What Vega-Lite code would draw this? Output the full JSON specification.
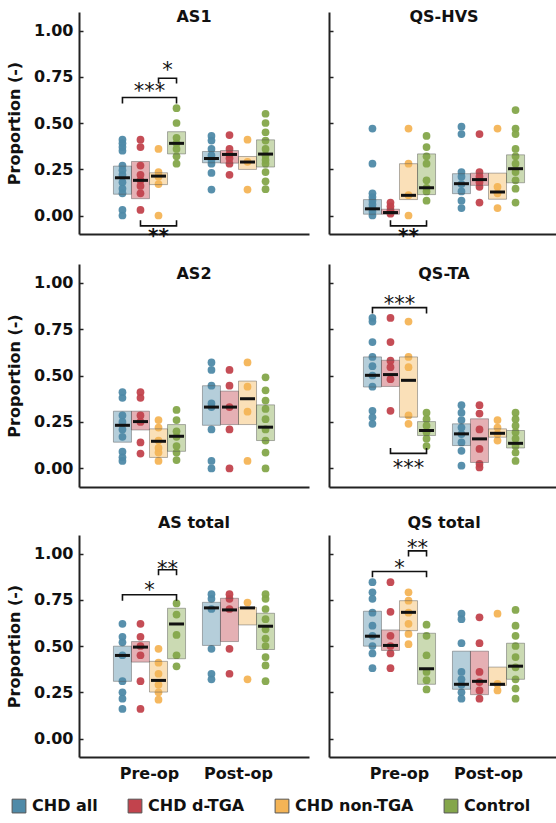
{
"$schema":"https://vega.github.io/schema/vega-lite/v6.json",
"padding":{"top":9,"left":6,"right":0,"bottom":5},
"config":{
 "font":"DejaVu Sans",
 "view":{"stroke":null},
 "axis":{"grid":false,"domainColor":"#222","domainWidth":2,"tickColor":"#222","tickWidth":1.5,"labelFont":"DejaVu Sans","labelFontSize":16,"labelFontWeight":"bold","labelColor":"#111","titleFont":"DejaVu Sans","titleFontSize":16,"titleFontWeight":"bold","titleColor":"#111"},
 "axisX":{"ticks":false,"labelAngle":0,"title":null,"labelPadding":8},
 "axisY":{"tickSize":-4,"labelPadding":10,"titlePadding":11},
 "title":{"font":"DejaVu Sans","fontSize":16,"fontWeight":"bold","color":"#111","anchor":"middle","baseline":"bottom","frame":"group"},
 "legend":{"orient":"none","direction":"horizontal","legendX":-68,"legendY":786,"padding":0,"labelFont":"DejaVu Sans","labelFontSize":16,"labelFontWeight":"bold","labelColor":"#111"}
},
"datasets":{
"pts":[
{"p":"AS1","t":"Pre-op","g":"CHD all","v":0.41},{"p":"AS1","t":"Pre-op","g":"CHD all","v":0.39},{"p":"AS1","t":"Pre-op","g":"CHD all","v":0.37},{"p":"AS1","t":"Pre-op","g":"CHD all","v":0.35},{"p":"AS1","t":"Pre-op","g":"CHD all","v":0.27},{"p":"AS1","t":"Pre-op","g":"CHD all","v":0.245},{"p":"AS1","t":"Pre-op","g":"CHD all","v":0.22},{"p":"AS1","t":"Pre-op","g":"CHD all","v":0.18},{"p":"AS1","t":"Pre-op","g":"CHD all","v":0.145},{"p":"AS1","t":"Pre-op","g":"CHD all","v":0.12},{"p":"AS1","t":"Pre-op","g":"CHD all","v":0.03},{"p":"AS1","t":"Pre-op","g":"CHD all","v":0.0},
{"p":"AS1","t":"Pre-op","g":"CHD d-TGA","v":0.41},{"p":"AS1","t":"Pre-op","g":"CHD d-TGA","v":0.37},{"p":"AS1","t":"Pre-op","g":"CHD d-TGA","v":0.27},{"p":"AS1","t":"Pre-op","g":"CHD d-TGA","v":0.22},{"p":"AS1","t":"Pre-op","g":"CHD d-TGA","v":0.19},{"p":"AS1","t":"Pre-op","g":"CHD d-TGA","v":0.16},{"p":"AS1","t":"Pre-op","g":"CHD d-TGA","v":0.12},{"p":"AS1","t":"Pre-op","g":"CHD d-TGA","v":0.03},
{"p":"AS1","t":"Pre-op","g":"CHD non-TGA","v":0.36},{"p":"AS1","t":"Pre-op","g":"CHD non-TGA","v":0.235},{"p":"AS1","t":"Pre-op","g":"CHD non-TGA","v":0.21},{"p":"AS1","t":"Pre-op","g":"CHD non-TGA","v":0.17},{"p":"AS1","t":"Pre-op","g":"CHD non-TGA","v":0.0},
{"p":"AS1","t":"Pre-op","g":"Control","v":0.58},{"p":"AS1","t":"Pre-op","g":"Control","v":0.5},{"p":"AS1","t":"Pre-op","g":"Control","v":0.42},{"p":"AS1","t":"Pre-op","g":"Control","v":0.39},{"p":"AS1","t":"Pre-op","g":"Control","v":0.36},{"p":"AS1","t":"Pre-op","g":"Control","v":0.32},{"p":"AS1","t":"Pre-op","g":"Control","v":0.28},
{"p":"AS1","t":"Post-op","g":"CHD all","v":0.43},{"p":"AS1","t":"Post-op","g":"CHD all","v":0.405},{"p":"AS1","t":"Post-op","g":"CHD all","v":0.36},{"p":"AS1","t":"Post-op","g":"CHD all","v":0.325},{"p":"AS1","t":"Post-op","g":"CHD all","v":0.3},{"p":"AS1","t":"Post-op","g":"CHD all","v":0.28},{"p":"AS1","t":"Post-op","g":"CHD all","v":0.23},{"p":"AS1","t":"Post-op","g":"CHD all","v":0.14},
{"p":"AS1","t":"Post-op","g":"CHD d-TGA","v":0.435},{"p":"AS1","t":"Post-op","g":"CHD d-TGA","v":0.36},{"p":"AS1","t":"Post-op","g":"CHD d-TGA","v":0.33},{"p":"AS1","t":"Post-op","g":"CHD d-TGA","v":0.31},{"p":"AS1","t":"Post-op","g":"CHD d-TGA","v":0.28},{"p":"AS1","t":"Post-op","g":"CHD d-TGA","v":0.22},
{"p":"AS1","t":"Post-op","g":"CHD non-TGA","v":0.41},{"p":"AS1","t":"Post-op","g":"CHD non-TGA","v":0.29},{"p":"AS1","t":"Post-op","g":"CHD non-TGA","v":0.14},
{"p":"AS1","t":"Post-op","g":"Control","v":0.55},{"p":"AS1","t":"Post-op","g":"Control","v":0.5},{"p":"AS1","t":"Post-op","g":"Control","v":0.45},{"p":"AS1","t":"Post-op","g":"Control","v":0.405},{"p":"AS1","t":"Post-op","g":"Control","v":0.36},{"p":"AS1","t":"Post-op","g":"Control","v":0.325},{"p":"AS1","t":"Post-op","g":"Control","v":0.3},{"p":"AS1","t":"Post-op","g":"Control","v":0.28},{"p":"AS1","t":"Post-op","g":"Control","v":0.235},{"p":"AS1","t":"Post-op","g":"Control","v":0.185},{"p":"AS1","t":"Post-op","g":"Control","v":0.142},

{"p":"QS-HVS","t":"Pre-op","g":"CHD all","v":0.47},{"p":"QS-HVS","t":"Pre-op","g":"CHD all","v":0.28},{"p":"QS-HVS","t":"Pre-op","g":"CHD all","v":0.12},{"p":"QS-HVS","t":"Pre-op","g":"CHD all","v":0.1},{"p":"QS-HVS","t":"Pre-op","g":"CHD all","v":0.08},{"p":"QS-HVS","t":"Pre-op","g":"CHD all","v":0.06},{"p":"QS-HVS","t":"Pre-op","g":"CHD all","v":0.04},{"p":"QS-HVS","t":"Pre-op","g":"CHD all","v":0.02},{"p":"QS-HVS","t":"Pre-op","g":"CHD all","v":0.0},
{"p":"QS-HVS","t":"Pre-op","g":"CHD d-TGA","v":0.07},{"p":"QS-HVS","t":"Pre-op","g":"CHD d-TGA","v":0.05},{"p":"QS-HVS","t":"Pre-op","g":"CHD d-TGA","v":0.03},{"p":"QS-HVS","t":"Pre-op","g":"CHD d-TGA","v":0.02},{"p":"QS-HVS","t":"Pre-op","g":"CHD d-TGA","v":0.01},
{"p":"QS-HVS","t":"Pre-op","g":"CHD non-TGA","v":0.47},{"p":"QS-HVS","t":"Pre-op","g":"CHD non-TGA","v":0.28},{"p":"QS-HVS","t":"Pre-op","g":"CHD non-TGA","v":0.11},{"p":"QS-HVS","t":"Pre-op","g":"CHD non-TGA","v":0.0},
{"p":"QS-HVS","t":"Pre-op","g":"Control","v":0.43},{"p":"QS-HVS","t":"Pre-op","g":"Control","v":0.37},{"p":"QS-HVS","t":"Pre-op","g":"Control","v":0.32},{"p":"QS-HVS","t":"Pre-op","g":"Control","v":0.28},{"p":"QS-HVS","t":"Pre-op","g":"Control","v":0.19},{"p":"QS-HVS","t":"Pre-op","g":"Control","v":0.15},{"p":"QS-HVS","t":"Pre-op","g":"Control","v":0.13},{"p":"QS-HVS","t":"Pre-op","g":"Control","v":0.08},
{"p":"QS-HVS","t":"Post-op","g":"CHD all","v":0.48},{"p":"QS-HVS","t":"Post-op","g":"CHD all","v":0.44},{"p":"QS-HVS","t":"Post-op","g":"CHD all","v":0.235},{"p":"QS-HVS","t":"Post-op","g":"CHD all","v":0.21},{"p":"QS-HVS","t":"Post-op","g":"CHD all","v":0.17},{"p":"QS-HVS","t":"Post-op","g":"CHD all","v":0.13},{"p":"QS-HVS","t":"Post-op","g":"CHD all","v":0.08},{"p":"QS-HVS","t":"Post-op","g":"CHD all","v":0.04},
{"p":"QS-HVS","t":"Post-op","g":"CHD d-TGA","v":0.44},{"p":"QS-HVS","t":"Post-op","g":"CHD d-TGA","v":0.235},{"p":"QS-HVS","t":"Post-op","g":"CHD d-TGA","v":0.21},{"p":"QS-HVS","t":"Post-op","g":"CHD d-TGA","v":0.18},{"p":"QS-HVS","t":"Post-op","g":"CHD d-TGA","v":0.155},{"p":"QS-HVS","t":"Post-op","g":"CHD d-TGA","v":0.07},
{"p":"QS-HVS","t":"Post-op","g":"CHD non-TGA","v":0.47},{"p":"QS-HVS","t":"Post-op","g":"CHD non-TGA","v":0.155},{"p":"QS-HVS","t":"Post-op","g":"CHD non-TGA","v":0.12},{"p":"QS-HVS","t":"Post-op","g":"CHD non-TGA","v":0.04},
{"p":"QS-HVS","t":"Post-op","g":"Control","v":0.57},{"p":"QS-HVS","t":"Post-op","g":"Control","v":0.47},{"p":"QS-HVS","t":"Post-op","g":"Control","v":0.44},{"p":"QS-HVS","t":"Post-op","g":"Control","v":0.36},{"p":"QS-HVS","t":"Post-op","g":"Control","v":0.32},{"p":"QS-HVS","t":"Post-op","g":"Control","v":0.28},{"p":"QS-HVS","t":"Post-op","g":"Control","v":0.235},{"p":"QS-HVS","t":"Post-op","g":"Control","v":0.19},{"p":"QS-HVS","t":"Post-op","g":"Control","v":0.145},{"p":"QS-HVS","t":"Post-op","g":"Control","v":0.07},

{"p":"AS2","t":"Pre-op","g":"CHD all","v":0.41},{"p":"AS2","t":"Pre-op","g":"CHD all","v":0.38},{"p":"AS2","t":"Pre-op","g":"CHD all","v":0.285},{"p":"AS2","t":"Pre-op","g":"CHD all","v":0.25},{"p":"AS2","t":"Pre-op","g":"CHD all","v":0.21},{"p":"AS2","t":"Pre-op","g":"CHD all","v":0.17},{"p":"AS2","t":"Pre-op","g":"CHD all","v":0.09},{"p":"AS2","t":"Pre-op","g":"CHD all","v":0.06},{"p":"AS2","t":"Pre-op","g":"CHD all","v":0.04},
{"p":"AS2","t":"Pre-op","g":"CHD d-TGA","v":0.41},{"p":"AS2","t":"Pre-op","g":"CHD d-TGA","v":0.38},{"p":"AS2","t":"Pre-op","g":"CHD d-TGA","v":0.285},{"p":"AS2","t":"Pre-op","g":"CHD d-TGA","v":0.25},{"p":"AS2","t":"Pre-op","g":"CHD d-TGA","v":0.14},{"p":"AS2","t":"Pre-op","g":"CHD d-TGA","v":0.08},
{"p":"AS2","t":"Pre-op","g":"CHD non-TGA","v":0.26},{"p":"AS2","t":"Pre-op","g":"CHD non-TGA","v":0.22},{"p":"AS2","t":"Pre-op","g":"CHD non-TGA","v":0.15},{"p":"AS2","t":"Pre-op","g":"CHD non-TGA","v":0.11},{"p":"AS2","t":"Pre-op","g":"CHD non-TGA","v":0.085},{"p":"AS2","t":"Pre-op","g":"CHD non-TGA","v":0.04},
{"p":"AS2","t":"Pre-op","g":"Control","v":0.315},{"p":"AS2","t":"Pre-op","g":"Control","v":0.26},{"p":"AS2","t":"Pre-op","g":"Control","v":0.2},{"p":"AS2","t":"Pre-op","g":"Control","v":0.17},{"p":"AS2","t":"Pre-op","g":"Control","v":0.12},{"p":"AS2","t":"Pre-op","g":"Control","v":0.085},{"p":"AS2","t":"Pre-op","g":"Control","v":0.045},
{"p":"AS2","t":"Post-op","g":"CHD all","v":0.57},{"p":"AS2","t":"Post-op","g":"CHD all","v":0.53},{"p":"AS2","t":"Post-op","g":"CHD all","v":0.445},{"p":"AS2","t":"Post-op","g":"CHD all","v":0.35},{"p":"AS2","t":"Post-op","g":"CHD all","v":0.33},{"p":"AS2","t":"Post-op","g":"CHD all","v":0.21},{"p":"AS2","t":"Post-op","g":"CHD all","v":0.04},{"p":"AS2","t":"Post-op","g":"CHD all","v":0.0},
{"p":"AS2","t":"Post-op","g":"CHD d-TGA","v":0.53},{"p":"AS2","t":"Post-op","g":"CHD d-TGA","v":0.445},{"p":"AS2","t":"Post-op","g":"CHD d-TGA","v":0.33},{"p":"AS2","t":"Post-op","g":"CHD d-TGA","v":0.21},{"p":"AS2","t":"Post-op","g":"CHD d-TGA","v":0.0},
{"p":"AS2","t":"Post-op","g":"CHD non-TGA","v":0.57},{"p":"AS2","t":"Post-op","g":"CHD non-TGA","v":0.44},{"p":"AS2","t":"Post-op","g":"CHD non-TGA","v":0.305},{"p":"AS2","t":"Post-op","g":"CHD non-TGA","v":0.04},
{"p":"AS2","t":"Post-op","g":"Control","v":0.49},{"p":"AS2","t":"Post-op","g":"Control","v":0.42},{"p":"AS2","t":"Post-op","g":"Control","v":0.365},{"p":"AS2","t":"Post-op","g":"Control","v":0.32},{"p":"AS2","t":"Post-op","g":"Control","v":0.265},{"p":"AS2","t":"Post-op","g":"Control","v":0.21},{"p":"AS2","t":"Post-op","g":"Control","v":0.15},{"p":"AS2","t":"Post-op","g":"Control","v":0.085},{"p":"AS2","t":"Post-op","g":"Control","v":0.0},

{"p":"QS-TA","t":"Pre-op","g":"CHD all","v":0.81},{"p":"QS-TA","t":"Pre-op","g":"CHD all","v":0.79},{"p":"QS-TA","t":"Pre-op","g":"CHD all","v":0.68},{"p":"QS-TA","t":"Pre-op","g":"CHD all","v":0.6},{"p":"QS-TA","t":"Pre-op","g":"CHD all","v":0.55},{"p":"QS-TA","t":"Pre-op","g":"CHD all","v":0.5},{"p":"QS-TA","t":"Pre-op","g":"CHD all","v":0.44},{"p":"QS-TA","t":"Pre-op","g":"CHD all","v":0.31},{"p":"QS-TA","t":"Pre-op","g":"CHD all","v":0.275},{"p":"QS-TA","t":"Pre-op","g":"CHD all","v":0.24},
{"p":"QS-TA","t":"Pre-op","g":"CHD d-TGA","v":0.81},{"p":"QS-TA","t":"Pre-op","g":"CHD d-TGA","v":0.68},{"p":"QS-TA","t":"Pre-op","g":"CHD d-TGA","v":0.58},{"p":"QS-TA","t":"Pre-op","g":"CHD d-TGA","v":0.545},{"p":"QS-TA","t":"Pre-op","g":"CHD d-TGA","v":0.48},{"p":"QS-TA","t":"Pre-op","g":"CHD d-TGA","v":0.31},
{"p":"QS-TA","t":"Pre-op","g":"CHD non-TGA","v":0.79},{"p":"QS-TA","t":"Pre-op","g":"CHD non-TGA","v":0.6},{"p":"QS-TA","t":"Pre-op","g":"CHD non-TGA","v":0.545},{"p":"QS-TA","t":"Pre-op","g":"CHD non-TGA","v":0.285},{"p":"QS-TA","t":"Pre-op","g":"CHD non-TGA","v":0.24},
{"p":"QS-TA","t":"Pre-op","g":"Control","v":0.3},{"p":"QS-TA","t":"Pre-op","g":"Control","v":0.265},{"p":"QS-TA","t":"Pre-op","g":"Control","v":0.23},{"p":"QS-TA","t":"Pre-op","g":"Control","v":0.195},{"p":"QS-TA","t":"Pre-op","g":"Control","v":0.16},{"p":"QS-TA","t":"Pre-op","g":"Control","v":0.12},
{"p":"QS-TA","t":"Post-op","g":"CHD all","v":0.34},{"p":"QS-TA","t":"Post-op","g":"CHD all","v":0.3},{"p":"QS-TA","t":"Post-op","g":"CHD all","v":0.26},{"p":"QS-TA","t":"Post-op","g":"CHD all","v":0.22},{"p":"QS-TA","t":"Post-op","g":"CHD all","v":0.185},{"p":"QS-TA","t":"Post-op","g":"CHD all","v":0.14},{"p":"QS-TA","t":"Post-op","g":"CHD all","v":0.095},{"p":"QS-TA","t":"Post-op","g":"CHD all","v":0.015},
{"p":"QS-TA","t":"Post-op","g":"CHD d-TGA","v":0.34},{"p":"QS-TA","t":"Post-op","g":"CHD d-TGA","v":0.295},{"p":"QS-TA","t":"Post-op","g":"CHD d-TGA","v":0.21},{"p":"QS-TA","t":"Post-op","g":"CHD d-TGA","v":0.105},{"p":"QS-TA","t":"Post-op","g":"CHD d-TGA","v":0.025},{"p":"QS-TA","t":"Post-op","g":"CHD d-TGA","v":0.005},
{"p":"QS-TA","t":"Post-op","g":"CHD non-TGA","v":0.26},{"p":"QS-TA","t":"Post-op","g":"CHD non-TGA","v":0.22},{"p":"QS-TA","t":"Post-op","g":"CHD non-TGA","v":0.185},{"p":"QS-TA","t":"Post-op","g":"CHD non-TGA","v":0.15},
{"p":"QS-TA","t":"Post-op","g":"Control","v":0.3},{"p":"QS-TA","t":"Post-op","g":"Control","v":0.265},{"p":"QS-TA","t":"Post-op","g":"Control","v":0.23},{"p":"QS-TA","t":"Post-op","g":"Control","v":0.195},{"p":"QS-TA","t":"Post-op","g":"Control","v":0.16},{"p":"QS-TA","t":"Post-op","g":"Control","v":0.12},{"p":"QS-TA","t":"Post-op","g":"Control","v":0.085},{"p":"QS-TA","t":"Post-op","g":"Control","v":0.04},

{"p":"AS total","t":"Pre-op","g":"CHD all","v":0.62},{"p":"AS total","t":"Pre-op","g":"CHD all","v":0.55},{"p":"AS total","t":"Pre-op","g":"CHD all","v":0.52},{"p":"AS total","t":"Pre-op","g":"CHD all","v":0.45},{"p":"AS total","t":"Pre-op","g":"CHD all","v":0.31},{"p":"AS total","t":"Pre-op","g":"CHD all","v":0.25},{"p":"AS total","t":"Pre-op","g":"CHD all","v":0.215},{"p":"AS total","t":"Pre-op","g":"CHD all","v":0.16},
{"p":"AS total","t":"Pre-op","g":"CHD d-TGA","v":0.62},{"p":"AS total","t":"Pre-op","g":"CHD d-TGA","v":0.55},{"p":"AS total","t":"Pre-op","g":"CHD d-TGA","v":0.5},{"p":"AS total","t":"Pre-op","g":"CHD d-TGA","v":0.45},{"p":"AS total","t":"Pre-op","g":"CHD d-TGA","v":0.31},{"p":"AS total","t":"Pre-op","g":"CHD d-TGA","v":0.16},
{"p":"AS total","t":"Pre-op","g":"CHD non-TGA","v":0.485},{"p":"AS total","t":"Pre-op","g":"CHD non-TGA","v":0.41},{"p":"AS total","t":"Pre-op","g":"CHD non-TGA","v":0.35},{"p":"AS total","t":"Pre-op","g":"CHD non-TGA","v":0.29},{"p":"AS total","t":"Pre-op","g":"CHD non-TGA","v":0.25},{"p":"AS total","t":"Pre-op","g":"CHD non-TGA","v":0.21},
{"p":"AS total","t":"Pre-op","g":"Control","v":0.73},{"p":"AS total","t":"Pre-op","g":"Control","v":0.67},{"p":"AS total","t":"Pre-op","g":"Control","v":0.56},{"p":"AS total","t":"Pre-op","g":"Control","v":0.45},{"p":"AS total","t":"Pre-op","g":"Control","v":0.39},
{"p":"AS total","t":"Post-op","g":"CHD all","v":0.78},{"p":"AS total","t":"Post-op","g":"CHD all","v":0.755},{"p":"AS total","t":"Post-op","g":"CHD all","v":0.7},{"p":"AS total","t":"Post-op","g":"CHD all","v":0.485},{"p":"AS total","t":"Post-op","g":"CHD all","v":0.35},{"p":"AS total","t":"Post-op","g":"CHD all","v":0.32},
{"p":"AS total","t":"Post-op","g":"CHD d-TGA","v":0.78},{"p":"AS total","t":"Post-op","g":"CHD d-TGA","v":0.755},{"p":"AS total","t":"Post-op","g":"CHD d-TGA","v":0.7},{"p":"AS total","t":"Post-op","g":"CHD d-TGA","v":0.485},{"p":"AS total","t":"Post-op","g":"CHD d-TGA","v":0.35},
{"p":"AS total","t":"Post-op","g":"CHD non-TGA","v":0.735},{"p":"AS total","t":"Post-op","g":"CHD non-TGA","v":0.32},
{"p":"AS total","t":"Post-op","g":"Control","v":0.78},{"p":"AS total","t":"Post-op","g":"Control","v":0.755},{"p":"AS total","t":"Post-op","g":"Control","v":0.7},{"p":"AS total","t":"Post-op","g":"Control","v":0.645},{"p":"AS total","t":"Post-op","g":"Control","v":0.59},{"p":"AS total","t":"Post-op","g":"Control","v":0.54},{"p":"AS total","t":"Post-op","g":"Control","v":0.5},{"p":"AS total","t":"Post-op","g":"Control","v":0.44},{"p":"AS total","t":"Post-op","g":"Control","v":0.395},{"p":"AS total","t":"Post-op","g":"Control","v":0.31},

{"p":"QS total","t":"Pre-op","g":"CHD all","v":0.845},{"p":"QS total","t":"Pre-op","g":"CHD all","v":0.79},{"p":"QS total","t":"Pre-op","g":"CHD all","v":0.755},{"p":"QS total","t":"Pre-op","g":"CHD all","v":0.68},{"p":"QS total","t":"Pre-op","g":"CHD all","v":0.61},{"p":"QS total","t":"Pre-op","g":"CHD all","v":0.555},{"p":"QS total","t":"Pre-op","g":"CHD all","v":0.5},{"p":"QS total","t":"Pre-op","g":"CHD all","v":0.46},{"p":"QS total","t":"Pre-op","g":"CHD all","v":0.38},
{"p":"QS total","t":"Pre-op","g":"CHD d-TGA","v":0.845},{"p":"QS total","t":"Pre-op","g":"CHD d-TGA","v":0.685},{"p":"QS total","t":"Pre-op","g":"CHD d-TGA","v":0.555},{"p":"QS total","t":"Pre-op","g":"CHD d-TGA","v":0.5},{"p":"QS total","t":"Pre-op","g":"CHD d-TGA","v":0.46},{"p":"QS total","t":"Pre-op","g":"CHD d-TGA","v":0.38},
{"p":"QS total","t":"Pre-op","g":"CHD non-TGA","v":0.79},{"p":"QS total","t":"Pre-op","g":"CHD non-TGA","v":0.745},{"p":"QS total","t":"Pre-op","g":"CHD non-TGA","v":0.68},{"p":"QS total","t":"Pre-op","g":"CHD non-TGA","v":0.62},{"p":"QS total","t":"Pre-op","g":"CHD non-TGA","v":0.565},{"p":"QS total","t":"Pre-op","g":"CHD non-TGA","v":0.51},
{"p":"QS total","t":"Pre-op","g":"Control","v":0.615},{"p":"QS total","t":"Pre-op","g":"Control","v":0.555},{"p":"QS total","t":"Pre-op","g":"Control","v":0.45},{"p":"QS total","t":"Pre-op","g":"Control","v":0.36},{"p":"QS total","t":"Pre-op","g":"Control","v":0.315},{"p":"QS total","t":"Pre-op","g":"Control","v":0.265},
{"p":"QS total","t":"Post-op","g":"CHD all","v":0.675},{"p":"QS total","t":"Post-op","g":"CHD all","v":0.645},{"p":"QS total","t":"Post-op","g":"CHD all","v":0.515},{"p":"QS total","t":"Post-op","g":"CHD all","v":0.36},{"p":"QS total","t":"Post-op","g":"CHD all","v":0.32},{"p":"QS total","t":"Post-op","g":"CHD all","v":0.29},{"p":"QS total","t":"Post-op","g":"CHD all","v":0.25},{"p":"QS total","t":"Post-op","g":"CHD all","v":0.215},
{"p":"QS total","t":"Post-op","g":"CHD d-TGA","v":0.655},{"p":"QS total","t":"Post-op","g":"CHD d-TGA","v":0.515},{"p":"QS total","t":"Post-op","g":"CHD d-TGA","v":0.36},{"p":"QS total","t":"Post-op","g":"CHD d-TGA","v":0.305},{"p":"QS total","t":"Post-op","g":"CHD d-TGA","v":0.26},{"p":"QS total","t":"Post-op","g":"CHD d-TGA","v":0.215},
{"p":"QS total","t":"Post-op","g":"CHD non-TGA","v":0.675},{"p":"QS total","t":"Post-op","g":"CHD non-TGA","v":0.295},{"p":"QS total","t":"Post-op","g":"CHD non-TGA","v":0.26},
{"p":"QS total","t":"Post-op","g":"Control","v":0.695},{"p":"QS total","t":"Post-op","g":"Control","v":0.61},{"p":"QS total","t":"Post-op","g":"Control","v":0.555},{"p":"QS total","t":"Post-op","g":"Control","v":0.5},{"p":"QS total","t":"Post-op","g":"Control","v":0.44},{"p":"QS total","t":"Post-op","g":"Control","v":0.385},{"p":"QS total","t":"Post-op","g":"Control","v":0.32},{"p":"QS total","t":"Post-op","g":"Control","v":0.27},{"p":"QS total","t":"Post-op","g":"Control","v":0.215}
],
"box":[
{"p":"AS1","t":"Pre-op","g":"CHD all","q1":0.115,"m":0.204,"q3":0.267},{"p":"AS1","t":"Pre-op","g":"CHD d-TGA","q1":0.091,"m":0.19,"q3":0.292},{"p":"AS1","t":"Pre-op","g":"CHD non-TGA","q1":0.167,"m":0.213,"q3":0.231},{"p":"AS1","t":"Pre-op","g":"Control","q1":0.333,"m":0.39,"q3":0.453},
{"p":"AS1","t":"Post-op","g":"CHD all","q1":0.285,"m":0.308,"q3":0.346},{"p":"AS1","t":"Post-op","g":"CHD d-TGA","q1":0.283,"m":0.33,"q3":0.351},{"p":"AS1","t":"Post-op","g":"CHD non-TGA","q1":0.249,"m":0.289,"q3":0.319},{"p":"AS1","t":"Post-op","g":"Control","q1":0.262,"m":0.332,"q3":0.409},
{"p":"QS-HVS","t":"Pre-op","g":"CHD all","q1":0.007,"m":0.036,"q3":0.086},{"p":"QS-HVS","t":"Pre-op","g":"CHD d-TGA","q1":0.007,"m":0.016,"q3":0.034},{"p":"QS-HVS","t":"Pre-op","g":"CHD non-TGA","q1":0.086,"m":0.109,"q3":0.28},{"p":"QS-HVS","t":"Pre-op","g":"Control","q1":0.113,"m":0.15,"q3":0.333},
{"p":"QS-HVS","t":"Post-op","g":"CHD all","q1":0.118,"m":0.172,"q3":0.226},{"p":"QS-HVS","t":"Post-op","g":"CHD d-TGA","q1":0.163,"m":0.194,"q3":0.229},{"p":"QS-HVS","t":"Post-op","g":"CHD non-TGA","q1":0.088,"m":0.127,"q3":0.229},{"p":"QS-HVS","t":"Post-op","g":"Control","q1":0.177,"m":0.253,"q3":0.328},
{"p":"AS2","t":"Pre-op","g":"CHD all","q1":0.141,"m":0.232,"q3":0.308},{"p":"AS2","t":"Pre-op","g":"CHD d-TGA","q1":0.207,"m":0.252,"q3":0.308},{"p":"AS2","t":"Pre-op","g":"CHD non-TGA","q1":0.059,"m":0.146,"q3":0.213},{"p":"AS2","t":"Pre-op","g":"Control","q1":0.092,"m":0.173,"q3":0.236},
{"p":"AS2","t":"Post-op","g":"CHD all","q1":0.232,"m":0.33,"q3":0.445},{"p":"AS2","t":"Post-op","g":"CHD d-TGA","q1":0.236,"m":0.33,"q3":0.416},{"p":"AS2","t":"Post-op","g":"CHD non-TGA","q1":0.236,"m":0.375,"q3":0.47},{"p":"AS2","t":"Post-op","g":"Control","q1":0.15,"m":0.222,"q3":0.342},
{"p":"QS-TA","t":"Pre-op","g":"CHD all","q1":0.438,"m":0.501,"q3":0.6},{"p":"QS-TA","t":"Pre-op","g":"CHD d-TGA","q1":0.441,"m":0.505,"q3":0.582},{"p":"QS-TA","t":"Pre-op","g":"CHD non-TGA","q1":0.276,"m":0.474,"q3":0.6},{"p":"QS-TA","t":"Pre-op","g":"Control","q1":0.177,"m":0.204,"q3":0.252},
{"p":"QS-TA","t":"Post-op","g":"CHD all","q1":0.123,"m":0.186,"q3":0.24},{"p":"QS-TA","t":"Post-op","g":"CHD d-TGA","q1":0.032,"m":0.159,"q3":0.267},{"p":"QS-TA","t":"Post-op","g":"CHD non-TGA","q1":0.168,"m":0.189,"q3":0.213},{"p":"QS-TA","t":"Post-op","g":"Control","q1":0.11,"m":0.135,"q3":0.204},
{"p":"AS total","t":"Pre-op","g":"CHD all","q1":0.309,"m":0.449,"q3":0.499},{"p":"AS total","t":"Pre-op","g":"CHD d-TGA","q1":0.413,"m":0.494,"q3":0.524},{"p":"AS total","t":"Pre-op","g":"CHD non-TGA","q1":0.251,"m":0.314,"q3":0.417},{"p":"AS total","t":"Pre-op","g":"Control","q1":0.431,"m":0.619,"q3":0.704},
{"p":"AS total","t":"Post-op","g":"CHD all","q1":0.503,"m":0.706,"q3":0.736},{"p":"AS total","t":"Post-op","g":"CHD d-TGA","q1":0.524,"m":0.695,"q3":0.758},{"p":"AS total","t":"Post-op","g":"CHD non-TGA","q1":0.614,"m":0.706,"q3":0.709},{"p":"AS total","t":"Post-op","g":"Control","q1":0.481,"m":0.607,"q3":0.677},
{"p":"QS total","t":"Pre-op","g":"CHD all","q1":0.499,"m":0.553,"q3":0.688},{"p":"QS total","t":"Pre-op","g":"CHD d-TGA","q1":0.476,"m":0.503,"q3":0.587},{"p":"QS total","t":"Pre-op","g":"CHD non-TGA","q1":0.583,"m":0.682,"q3":0.745},{"p":"QS total","t":"Pre-op","g":"Control","q1":0.293,"m":0.377,"q3":0.569},
{"p":"QS total","t":"Post-op","g":"CHD all","q1":0.266,"m":0.293,"q3":0.472},{"p":"QS total","t":"Post-op","g":"CHD d-TGA","q1":0.237,"m":0.309,"q3":0.472},{"p":"QS total","t":"Post-op","g":"CHD non-TGA","q1":0.287,"m":0.293,"q3":0.386},{"p":"QS total","t":"Post-op","g":"Control","q1":0.32,"m":0.391,"q3":0.515}
],
"br":[
{"p":"AS1","b":1,"t":"Pre-op","g":"CHD all","y":0.606,"o":1},{"p":"AS1","b":1,"t":"Pre-op","g":"CHD all","y":0.638,"o":2},{"p":"AS1","b":1,"t":"Pre-op","g":"Control","y":0.638,"o":3},{"p":"AS1","b":1,"t":"Pre-op","g":"Control","y":0.606,"o":4},
{"p":"AS1","b":2,"t":"Pre-op","g":"CHD non-TGA","y":0.713,"o":1},{"p":"AS1","b":2,"t":"Pre-op","g":"CHD non-TGA","y":0.742,"o":2},{"p":"AS1","b":2,"t":"Pre-op","g":"Control","y":0.742,"o":3},{"p":"AS1","b":2,"t":"Pre-op","g":"Control","y":0.713,"o":4},
{"p":"AS1","b":3,"t":"Pre-op","g":"CHD d-TGA","y":-0.025,"o":1},{"p":"AS1","b":3,"t":"Pre-op","g":"CHD d-TGA","y":-0.056,"o":2},{"p":"AS1","b":3,"t":"Pre-op","g":"Control","y":-0.056,"o":3},{"p":"AS1","b":3,"t":"Pre-op","g":"Control","y":-0.025,"o":4},
{"p":"QS-HVS","b":1,"t":"Pre-op","g":"CHD d-TGA","y":-0.025,"o":1},{"p":"QS-HVS","b":1,"t":"Pre-op","g":"CHD d-TGA","y":-0.056,"o":2},{"p":"QS-HVS","b":1,"t":"Pre-op","g":"Control","y":-0.056,"o":3},{"p":"QS-HVS","b":1,"t":"Pre-op","g":"Control","y":-0.025,"o":4},
{"p":"QS-TA","b":1,"t":"Pre-op","g":"CHD all","y":0.834,"o":1},{"p":"QS-TA","b":1,"t":"Pre-op","g":"CHD all","y":0.865,"o":2},{"p":"QS-TA","b":1,"t":"Pre-op","g":"Control","y":0.865,"o":3},{"p":"QS-TA","b":1,"t":"Pre-op","g":"Control","y":0.834,"o":4},
{"p":"QS-TA","b":2,"t":"Pre-op","g":"CHD d-TGA","y":0.11,"o":1},{"p":"QS-TA","b":2,"t":"Pre-op","g":"CHD d-TGA","y":0.081,"o":2},{"p":"QS-TA","b":2,"t":"Pre-op","g":"Control","y":0.081,"o":3},{"p":"QS-TA","b":2,"t":"Pre-op","g":"Control","y":0.11,"o":4},
{"p":"AS total","b":1,"t":"Pre-op","g":"CHD all","y":0.745,"o":1},{"p":"AS total","b":1,"t":"Pre-op","g":"CHD all","y":0.777,"o":2},{"p":"AS total","b":1,"t":"Pre-op","g":"Control","y":0.777,"o":3},{"p":"AS total","b":1,"t":"Pre-op","g":"Control","y":0.745,"o":4},
{"p":"AS total","b":2,"t":"Pre-op","g":"CHD non-TGA","y":0.883,"o":1},{"p":"AS total","b":2,"t":"Pre-op","g":"CHD non-TGA","y":0.912,"o":2},{"p":"AS total","b":2,"t":"Pre-op","g":"Control","y":0.912,"o":3},{"p":"AS total","b":2,"t":"Pre-op","g":"Control","y":0.883,"o":4},
{"p":"QS total","b":1,"t":"Pre-op","g":"CHD all","y":0.871,"o":1},{"p":"QS total","b":1,"t":"Pre-op","g":"CHD all","y":0.903,"o":2},{"p":"QS total","b":1,"t":"Pre-op","g":"Control","y":0.903,"o":3},{"p":"QS total","b":1,"t":"Pre-op","g":"Control","y":0.871,"o":4},
{"p":"QS total","b":2,"t":"Pre-op","g":"CHD non-TGA","y":0.984,"o":1},{"p":"QS total","b":2,"t":"Pre-op","g":"CHD non-TGA","y":1.014,"o":2},{"p":"QS total","b":2,"t":"Pre-op","g":"Control","y":1.014,"o":3},{"p":"QS total","b":2,"t":"Pre-op","g":"Control","y":0.984,"o":4}
],
"sig":[
{"p":"AS1","t":"Pre-op","g":"CHD all","s":"***","y":0.634,"k":"mid"},
{"p":"AS1","t":"Pre-op","g":"CHD non-TGA","s":"*","y":0.75,"k":"edge"},
{"p":"AS1","t":"Pre-op","g":"CHD non-TGA","s":"**","y":-0.142,"k":"bold"},
{"p":"QS-HVS","t":"Pre-op","g":"CHD non-TGA","s":"**","y":-0.142,"k":"bold"},
{"p":"QS-TA","t":"Pre-op","g":"CHD all","s":"***","y":0.845,"k":"mid"},
{"p":"QS-TA","t":"Pre-op","g":"CHD non-TGA","s":"***","y":-0.033,"k":"ctr"},
{"p":"AS total","t":"Pre-op","g":"CHD all","s":"*","y":0.764,"k":"mid"},
{"p":"AS total","t":"Pre-op","g":"CHD non-TGA","s":"**","y":0.878,"k":"edge"},
{"p":"QS total","t":"Pre-op","g":"CHD all","s":"*","y":0.886,"k":"mid"},
{"p":"QS total","t":"Pre-op","g":"CHD non-TGA","s":"**","y":0.994,"k":"edge"}
]
},
"vconcat":[
{"vconcat":[
{"hconcat":[
{"width":230,"height":222,"title":{"text":"AS1","offset":-13},
 "encoding":{"x":{"field":"t","type":"nominal","scale":{"type":"band","domain":["Pre-op","Post-op"],"paddingInner":0.19,"paddingOuter":0.387},"axis":{"labels":false,"title":null}}},
 "layer":[
  {"data":{"name":"pts"},"transform":[{"filter":"datum.p=='AS1'"}],"mark":{"type":"circle","size":60,"opacity":0.95},
   "encoding":{"xOffset":{"field":"g","type":"nominal","scale":{"domain":["CHD all","CHD d-TGA","CHD non-TGA","Control"],"paddingInner":0,"paddingOuter":0}},
    "y":{"field":"v","type":"quantitative","scale":{"domain":[-0.1,1.1],"nice":false,"zero":false},"axis":{"values":[0,0.25,0.5,0.75,1],"format":".2f","title":"Proportion (-)"}},
    "color":{"field":"g","type":"nominal","scale":{"domain":["CHD all","CHD d-TGA","CHD non-TGA","Control"],"range":["#4f8aa8","#c2434d","#f4b456","#84a64a"]},"legend":{"title":null,"orient":"none","direction":"horizontal","legendX":-68,"legendY":786,"symbolType":"square","symbolSize":190,"symbolStrokeColor":"#555","symbolStrokeWidth":1,"symbolOpacity":1,"labelOffset":5,"columnPadding":28}}}},
  {"data":{"name":"box"},"transform":[{"filter":"datum.p=='AS1'"}],"mark":{"type":"bar","fillOpacity":0.42,"stroke":"#555","strokeOpacity":0.45,"strokeWidth":1},
   "encoding":{"xOffset":{"field":"g","type":"nominal","scale":{"domain":["CHD all","CHD d-TGA","CHD non-TGA","Control"],"paddingInner":0,"paddingOuter":0}},
    "y":{"field":"q3","type":"quantitative","scale":{"domain":[-0.1,1.1],"nice":false,"zero":false},"axis":{"values":[0,0.25,0.5,0.75,1],"format":".2f","title":"Proportion (-)"}},"y2":{"field":"q1"},
    "color":{"field":"g","type":"nominal","legend":{"title":null,"orient":"none","direction":"horizontal","legendX":-68,"legendY":786,"symbolType":"square","symbolSize":190,"symbolStrokeColor":"#555","symbolStrokeWidth":1,"symbolOpacity":1,"labelOffset":5,"columnPadding":28}}}},
  {"data":{"name":"box"},"transform":[{"filter":"datum.p=='AS1'"}],"mark":{"type":"tick","color":"#111","thickness":3,"size":15,"opacity":1},
   "encoding":{"xOffset":{"field":"g","type":"nominal","scale":{"domain":["CHD all","CHD d-TGA","CHD non-TGA","Control"],"paddingInner":0,"paddingOuter":0}},
    "y":{"field":"m","type":"quantitative","scale":{"domain":[-0.1,1.1],"nice":false,"zero":false},"axis":{"values":[0,0.25,0.5,0.75,1],"format":".2f","title":"Proportion (-)"}}}},
  {"data":{"name":"br"},"transform":[{"filter":"datum.p=='AS1'"}],"mark":{"type":"line","color":"#111","strokeWidth":1.6},
   "encoding":{"xOffset":{"field":"g","type":"nominal","scale":{"domain":["CHD all","CHD d-TGA","CHD non-TGA","Control"],"paddingInner":0,"paddingOuter":0}},
    "y":{"field":"y","type":"quantitative","scale":{"domain":[-0.1,1.1],"nice":false,"zero":false},"axis":{"values":[0,0.25,0.5,0.75,1],"format":".2f","title":"Proportion (-)"}},"detail":{"field":"b","type":"nominal"},"order":{"field":"o","type":"quantitative"}}},
  {"data":{"name":"sig"},"transform":[{"filter":"datum.p=='AS1' && datum.k=='mid'"}],"mark":{"type":"text","fontSize":21,"baseline":"alphabetic","color":"#111"},
   "encoding":{"y":{"field":"y","type":"quantitative","scale":{"domain":[-0.1,1.1],"nice":false,"zero":false},"axis":{"values":[0,0.25,0.5,0.75,1],"format":".2f","title":"Proportion (-)"}},"text":{"field":"s"}}},
  {"data":{"name":"sig"},"transform":[{"filter":"datum.p=='AS1' && datum.k=='edge'"}],"mark":{"type":"text","fontSize":21,"baseline":"alphabetic","color":"#111","dx":9},
   "encoding":{"xOffset":{"field":"g","type":"nominal","scale":{"domain":["CHD all","CHD d-TGA","CHD non-TGA","Control"],"paddingInner":0,"paddingOuter":0}},"y":{"field":"y","type":"quantitative","scale":{"domain":[-0.1,1.1],"nice":false,"zero":false},"axis":{"values":[0,0.25,0.5,0.75,1],"format":".2f","title":"Proportion (-)"}},"text":{"field":"s"}}},
  {"data":{"name":"sig"},"transform":[{"filter":"datum.p=='AS1' && datum.k=='bold'"}],"mark":{"type":"text","fontSize":20,"fontWeight":"bold","baseline":"alphabetic","color":"#111"},
   "encoding":{"xOffset":{"field":"g","type":"nominal","scale":{"domain":["CHD all","CHD d-TGA","CHD non-TGA","Control"],"paddingInner":0,"paddingOuter":0}},"y":{"field":"y","type":"quantitative","scale":{"domain":[-0.1,1.1],"nice":false,"zero":false},"axis":{"values":[0,0.25,0.5,0.75,1],"format":".2f","title":"Proportion (-)"}},"text":{"field":"s"}}}
 ]},
{"width":230,"height":222,"title":{"text":"QS-HVS","offset":-13},
 "encoding":{"x":{"field":"t","type":"nominal","scale":{"type":"band","domain":["Pre-op","Post-op"],"paddingInner":0.19,"paddingOuter":0.387},"axis":{"labels":false,"title":null}}},
 "layer":[
  {"data":{"name":"pts"},"transform":[{"filter":"datum.p=='QS-HVS'"}],"mark":{"type":"circle","size":60,"opacity":0.95},
   "encoding":{"xOffset":{"field":"g","type":"nominal","scale":{"domain":["CHD all","CHD d-TGA","CHD non-TGA","Control"],"paddingInner":0,"paddingOuter":0}},
    "y":{"field":"v","type":"quantitative","scale":{"domain":[-0.1,1.1],"nice":false,"zero":false},"axis":{"values":[0,0.25,0.5,0.75,1],"labels":false,"title":null}},
    "color":{"field":"g","type":"nominal","legend":{"title":null,"orient":"none","direction":"horizontal","legendX":-68,"legendY":786,"symbolType":"square","symbolSize":190,"symbolStrokeColor":"#555","symbolStrokeWidth":1,"symbolOpacity":1,"labelOffset":5,"columnPadding":28}}}},
  {"data":{"name":"box"},"transform":[{"filter":"datum.p=='QS-HVS'"}],"mark":{"type":"bar","fillOpacity":0.42,"stroke":"#555","strokeOpacity":0.45,"strokeWidth":1},
   "encoding":{"xOffset":{"field":"g","type":"nominal","scale":{"domain":["CHD all","CHD d-TGA","CHD non-TGA","Control"],"paddingInner":0,"paddingOuter":0}},
    "y":{"field":"q3","type":"quantitative","scale":{"domain":[-0.1,1.1],"nice":false,"zero":false},"axis":{"values":[0,0.25,0.5,0.75,1],"labels":false,"title":null}},"y2":{"field":"q1"},
    "color":{"field":"g","type":"nominal","legend":{"title":null,"orient":"none","direction":"horizontal","legendX":-68,"legendY":786,"symbolType":"square","symbolSize":190,"symbolStrokeColor":"#555","symbolStrokeWidth":1,"symbolOpacity":1,"labelOffset":5,"columnPadding":28}}}},
  {"data":{"name":"box"},"transform":[{"filter":"datum.p=='QS-HVS'"}],"mark":{"type":"tick","color":"#111","thickness":3,"size":15,"opacity":1},
   "encoding":{"xOffset":{"field":"g","type":"nominal","scale":{"domain":["CHD all","CHD d-TGA","CHD non-TGA","Control"],"paddingInner":0,"paddingOuter":0}},
    "y":{"field":"m","type":"quantitative","scale":{"domain":[-0.1,1.1],"nice":false,"zero":false},"axis":{"values":[0,0.25,0.5,0.75,1],"labels":false,"title":null}}}},
  {"data":{"name":"br"},"transform":[{"filter":"datum.p=='QS-HVS'"}],"mark":{"type":"line","color":"#111","strokeWidth":1.6},
   "encoding":{"xOffset":{"field":"g","type":"nominal","scale":{"domain":["CHD all","CHD d-TGA","CHD non-TGA","Control"],"paddingInner":0,"paddingOuter":0}},
    "y":{"field":"y","type":"quantitative","scale":{"domain":[-0.1,1.1],"nice":false,"zero":false},"axis":{"values":[0,0.25,0.5,0.75,1],"labels":false,"title":null}},"detail":{"field":"b","type":"nominal"},"order":{"field":"o","type":"quantitative"}}},
  {"data":{"name":"sig"},"transform":[{"filter":"datum.p=='QS-HVS' && datum.k=='bold'"}],"mark":{"type":"text","fontSize":20,"fontWeight":"bold","baseline":"alphabetic","color":"#111"},
   "encoding":{"xOffset":{"field":"g","type":"nominal","scale":{"domain":["CHD all","CHD d-TGA","CHD non-TGA","Control"],"paddingInner":0,"paddingOuter":0}},"y":{"field":"y","type":"quantitative","scale":{"domain":[-0.1,1.1],"nice":false,"zero":false},"axis":{"values":[0,0.25,0.5,0.75,1],"labels":false,"title":null}},"text":{"field":"s"}}}
 ]}
],"spacing":19},
{"hconcat":[
{"width":230,"height":223,"title":{"text":"AS2","offset":-18},
 "encoding":{"x":{"field":"t","type":"nominal","scale":{"type":"band","domain":["Pre-op","Post-op"],"paddingInner":0.19,"paddingOuter":0.387},"axis":{"labels":false,"title":null}}},
 "layer":[
  {"data":{"name":"pts"},"transform":[{"filter":"datum.p=='AS2'"}],"mark":{"type":"circle","size":60,"opacity":0.95},
   "encoding":{"xOffset":{"field":"g","type":"nominal","scale":{"domain":["CHD all","CHD d-TGA","CHD non-TGA","Control"],"paddingInner":0,"paddingOuter":0}},
    "y":{"field":"v","type":"quantitative","scale":{"domain":[-0.1,1.1],"nice":false,"zero":false},"axis":{"values":[0,0.25,0.5,0.75,1],"format":".2f","title":"Proportion (-)"}},
    "color":{"field":"g","type":"nominal","legend":{"title":null,"orient":"none","direction":"horizontal","legendX":-68,"legendY":786,"symbolType":"square","symbolSize":190,"symbolStrokeColor":"#555","symbolStrokeWidth":1,"symbolOpacity":1,"labelOffset":5,"columnPadding":28}}}},
  {"data":{"name":"box"},"transform":[{"filter":"datum.p=='AS2'"}],"mark":{"type":"bar","fillOpacity":0.42,"stroke":"#555","strokeOpacity":0.45,"strokeWidth":1},
   "encoding":{"xOffset":{"field":"g","type":"nominal","scale":{"domain":["CHD all","CHD d-TGA","CHD non-TGA","Control"],"paddingInner":0,"paddingOuter":0}},
    "y":{"field":"q3","type":"quantitative","scale":{"domain":[-0.1,1.1],"nice":false,"zero":false},"axis":{"values":[0,0.25,0.5,0.75,1],"format":".2f","title":"Proportion (-)"}},"y2":{"field":"q1"},
    "color":{"field":"g","type":"nominal","legend":{"title":null,"orient":"none","direction":"horizontal","legendX":-68,"legendY":786,"symbolType":"square","symbolSize":190,"symbolStrokeColor":"#555","symbolStrokeWidth":1,"symbolOpacity":1,"labelOffset":5,"columnPadding":28}}}},
  {"data":{"name":"box"},"transform":[{"filter":"datum.p=='AS2'"}],"mark":{"type":"tick","color":"#111","thickness":3,"size":15,"opacity":1},
   "encoding":{"xOffset":{"field":"g","type":"nominal","scale":{"domain":["CHD all","CHD d-TGA","CHD non-TGA","Control"],"paddingInner":0,"paddingOuter":0}},
    "y":{"field":"m","type":"quantitative","scale":{"domain":[-0.1,1.1],"nice":false,"zero":false},"axis":{"values":[0,0.25,0.5,0.75,1],"format":".2f","title":"Proportion (-)"}}}}
 ]},
{"width":230,"height":223,"title":{"text":"QS-TA","offset":-18},
 "encoding":{"x":{"field":"t","type":"nominal","scale":{"type":"band","domain":["Pre-op","Post-op"],"paddingInner":0.19,"paddingOuter":0.387},"axis":{"labels":false,"title":null}}},
 "layer":[
  {"data":{"name":"pts"},"transform":[{"filter":"datum.p=='QS-TA'"}],"mark":{"type":"circle","size":60,"opacity":0.95},
   "encoding":{"xOffset":{"field":"g","type":"nominal","scale":{"domain":["CHD all","CHD d-TGA","CHD non-TGA","Control"],"paddingInner":0,"paddingOuter":0}},
    "y":{"field":"v","type":"quantitative","scale":{"domain":[-0.1,1.1],"nice":false,"zero":false},"axis":{"values":[0,0.25,0.5,0.75,1],"labels":false,"title":null}},
    "color":{"field":"g","type":"nominal","legend":{"title":null,"orient":"none","direction":"horizontal","legendX":-68,"legendY":786,"symbolType":"square","symbolSize":190,"symbolStrokeColor":"#555","symbolStrokeWidth":1,"symbolOpacity":1,"labelOffset":5,"columnPadding":28}}}},
  {"data":{"name":"box"},"transform":[{"filter":"datum.p=='QS-TA'"}],"mark":{"type":"bar","fillOpacity":0.42,"stroke":"#555","strokeOpacity":0.45,"strokeWidth":1},
   "encoding":{"xOffset":{"field":"g","type":"nominal","scale":{"domain":["CHD all","CHD d-TGA","CHD non-TGA","Control"],"paddingInner":0,"paddingOuter":0}},
    "y":{"field":"q3","type":"quantitative","scale":{"domain":[-0.1,1.1],"nice":false,"zero":false},"axis":{"values":[0,0.25,0.5,0.75,1],"labels":false,"title":null}},"y2":{"field":"q1"},
    "color":{"field":"g","type":"nominal","legend":{"title":null,"orient":"none","direction":"horizontal","legendX":-68,"legendY":786,"symbolType":"square","symbolSize":190,"symbolStrokeColor":"#555","symbolStrokeWidth":1,"symbolOpacity":1,"labelOffset":5,"columnPadding":28}}}},
  {"data":{"name":"box"},"transform":[{"filter":"datum.p=='QS-TA'"}],"mark":{"type":"tick","color":"#111","thickness":3,"size":15,"opacity":1},
   "encoding":{"xOffset":{"field":"g","type":"nominal","scale":{"domain":["CHD all","CHD d-TGA","CHD non-TGA","Control"],"paddingInner":0,"paddingOuter":0}},
    "y":{"field":"m","type":"quantitative","scale":{"domain":[-0.1,1.1],"nice":false,"zero":false},"axis":{"values":[0,0.25,0.5,0.75,1],"labels":false,"title":null}}}},
  {"data":{"name":"br"},"transform":[{"filter":"datum.p=='QS-TA'"}],"mark":{"type":"line","color":"#111","strokeWidth":1.6},
   "encoding":{"xOffset":{"field":"g","type":"nominal","scale":{"domain":["CHD all","CHD d-TGA","CHD non-TGA","Control"],"paddingInner":0,"paddingOuter":0}},
    "y":{"field":"y","type":"quantitative","scale":{"domain":[-0.1,1.1],"nice":false,"zero":false},"axis":{"values":[0,0.25,0.5,0.75,1],"labels":false,"title":null}},"detail":{"field":"b","type":"nominal"},"order":{"field":"o","type":"quantitative"}}},
  {"data":{"name":"sig"},"transform":[{"filter":"datum.p=='QS-TA' && datum.k=='mid'"}],"mark":{"type":"text","fontSize":21,"baseline":"alphabetic","color":"#111"},
   "encoding":{"y":{"field":"y","type":"quantitative","scale":{"domain":[-0.1,1.1],"nice":false,"zero":false},"axis":{"values":[0,0.25,0.5,0.75,1],"labels":false,"title":null}},"text":{"field":"s"}}},
  {"data":{"name":"sig"},"transform":[{"filter":"datum.p=='QS-TA' && datum.k=='ctr'"}],"mark":{"type":"text","fontSize":21,"baseline":"alphabetic","color":"#111"},
   "encoding":{"xOffset":{"field":"g","type":"nominal","scale":{"domain":["CHD all","CHD d-TGA","CHD non-TGA","Control"],"paddingInner":0,"paddingOuter":0}},"y":{"field":"y","type":"quantitative","scale":{"domain":[-0.1,1.1],"nice":false,"zero":false},"axis":{"values":[0,0.25,0.5,0.75,1],"labels":false,"title":null}},"text":{"field":"s"}}}
 ]}
],"spacing":19}
],"spacing":18},
{"hconcat":[
{"width":230,"height":222,"title":{"text":"AS total","offset":4},
 "encoding":{"x":{"field":"t","type":"nominal","scale":{"type":"band","domain":["Pre-op","Post-op"],"paddingInner":0.19,"paddingOuter":0.387},"axis":{"labels":true,"title":null}}},
 "layer":[
  {"data":{"name":"pts"},"transform":[{"filter":"datum.p=='AS total'"}],"mark":{"type":"circle","size":60,"opacity":0.95},
   "encoding":{"xOffset":{"field":"g","type":"nominal","scale":{"domain":["CHD all","CHD d-TGA","CHD non-TGA","Control"],"paddingInner":0,"paddingOuter":0}},
    "y":{"field":"v","type":"quantitative","scale":{"domain":[-0.1,1.1],"nice":false,"zero":false},"axis":{"values":[0,0.25,0.5,0.75,1],"format":".2f","title":"Proportion (-)"}},
    "color":{"field":"g","type":"nominal","legend":{"title":null,"orient":"none","direction":"horizontal","legendX":-68,"legendY":786,"symbolType":"square","symbolSize":190,"symbolStrokeColor":"#555","symbolStrokeWidth":1,"symbolOpacity":1,"labelOffset":5,"columnPadding":28}}}},
  {"data":{"name":"box"},"transform":[{"filter":"datum.p=='AS total'"}],"mark":{"type":"bar","fillOpacity":0.42,"stroke":"#555","strokeOpacity":0.45,"strokeWidth":1},
   "encoding":{"xOffset":{"field":"g","type":"nominal","scale":{"domain":["CHD all","CHD d-TGA","CHD non-TGA","Control"],"paddingInner":0,"paddingOuter":0}},
    "y":{"field":"q3","type":"quantitative","scale":{"domain":[-0.1,1.1],"nice":false,"zero":false},"axis":{"values":[0,0.25,0.5,0.75,1],"format":".2f","title":"Proportion (-)"}},"y2":{"field":"q1"},
    "color":{"field":"g","type":"nominal","legend":{"title":null,"orient":"none","direction":"horizontal","legendX":-68,"legendY":786,"symbolType":"square","symbolSize":190,"symbolStrokeColor":"#555","symbolStrokeWidth":1,"symbolOpacity":1,"labelOffset":5,"columnPadding":28}}}},
  {"data":{"name":"box"},"transform":[{"filter":"datum.p=='AS total'"}],"mark":{"type":"tick","color":"#111","thickness":3,"size":15,"opacity":1},
   "encoding":{"xOffset":{"field":"g","type":"nominal","scale":{"domain":["CHD all","CHD d-TGA","CHD non-TGA","Control"],"paddingInner":0,"paddingOuter":0}},
    "y":{"field":"m","type":"quantitative","scale":{"domain":[-0.1,1.1],"nice":false,"zero":false},"axis":{"values":[0,0.25,0.5,0.75,1],"format":".2f","title":"Proportion (-)"}}}},
  {"data":{"name":"br"},"transform":[{"filter":"datum.p=='AS total'"}],"mark":{"type":"line","color":"#111","strokeWidth":1.6},
   "encoding":{"xOffset":{"field":"g","type":"nominal","scale":{"domain":["CHD all","CHD d-TGA","CHD non-TGA","Control"],"paddingInner":0,"paddingOuter":0}},
    "y":{"field":"y","type":"quantitative","scale":{"domain":[-0.1,1.1],"nice":false,"zero":false},"axis":{"values":[0,0.25,0.5,0.75,1],"format":".2f","title":"Proportion (-)"}},"detail":{"field":"b","type":"nominal"},"order":{"field":"o","type":"quantitative"}}},
  {"data":{"name":"sig"},"transform":[{"filter":"datum.p=='AS total' && datum.k=='mid'"}],"mark":{"type":"text","fontSize":21,"baseline":"alphabetic","color":"#111"},
   "encoding":{"y":{"field":"y","type":"quantitative","scale":{"domain":[-0.1,1.1],"nice":false,"zero":false},"axis":{"values":[0,0.25,0.5,0.75,1],"format":".2f","title":"Proportion (-)"}},"text":{"field":"s"}}},
  {"data":{"name":"sig"},"transform":[{"filter":"datum.p=='AS total' && datum.k=='edge'"}],"mark":{"type":"text","fontSize":21,"baseline":"alphabetic","color":"#111","dx":9},
   "encoding":{"xOffset":{"field":"g","type":"nominal","scale":{"domain":["CHD all","CHD d-TGA","CHD non-TGA","Control"],"paddingInner":0,"paddingOuter":0}},"y":{"field":"y","type":"quantitative","scale":{"domain":[-0.1,1.1],"nice":false,"zero":false},"axis":{"values":[0,0.25,0.5,0.75,1],"format":".2f","title":"Proportion (-)"}},"text":{"field":"s"}}}
 ]},
{"width":230,"height":222,"title":{"text":"QS total","offset":4},
 "encoding":{"x":{"field":"t","type":"nominal","scale":{"type":"band","domain":["Pre-op","Post-op"],"paddingInner":0.19,"paddingOuter":0.387},"axis":{"labels":true,"title":null}}},
 "layer":[
  {"data":{"name":"pts"},"transform":[{"filter":"datum.p=='QS total'"}],"mark":{"type":"circle","size":60,"opacity":0.95},
   "encoding":{"xOffset":{"field":"g","type":"nominal","scale":{"domain":["CHD all","CHD d-TGA","CHD non-TGA","Control"],"paddingInner":0,"paddingOuter":0}},
    "y":{"field":"v","type":"quantitative","scale":{"domain":[-0.1,1.1],"nice":false,"zero":false},"axis":{"values":[0,0.25,0.5,0.75,1],"labels":false,"title":null}},
    "color":{"field":"g","type":"nominal","legend":{"title":null,"orient":"none","direction":"horizontal","legendX":-68,"legendY":786,"symbolType":"square","symbolSize":190,"symbolStrokeColor":"#555","symbolStrokeWidth":1,"symbolOpacity":1,"labelOffset":5,"columnPadding":28}}}},
  {"data":{"name":"box"},"transform":[{"filter":"datum.p=='QS total'"}],"mark":{"type":"bar","fillOpacity":0.42,"stroke":"#555","strokeOpacity":0.45,"strokeWidth":1},
   "encoding":{"xOffset":{"field":"g","type":"nominal","scale":{"domain":["CHD all","CHD d-TGA","CHD non-TGA","Control"],"paddingInner":0,"paddingOuter":0}},
    "y":{"field":"q3","type":"quantitative","scale":{"domain":[-0.1,1.1],"nice":false,"zero":false},"axis":{"values":[0,0.25,0.5,0.75,1],"labels":false,"title":null}},"y2":{"field":"q1"},
    "color":{"field":"g","type":"nominal","legend":{"title":null,"orient":"none","direction":"horizontal","legendX":-68,"legendY":786,"symbolType":"square","symbolSize":190,"symbolStrokeColor":"#555","symbolStrokeWidth":1,"symbolOpacity":1,"labelOffset":5,"columnPadding":28}}}},
  {"data":{"name":"box"},"transform":[{"filter":"datum.p=='QS total'"}],"mark":{"type":"tick","color":"#111","thickness":3,"size":15,"opacity":1},
   "encoding":{"xOffset":{"field":"g","type":"nominal","scale":{"domain":["CHD all","CHD d-TGA","CHD non-TGA","Control"],"paddingInner":0,"paddingOuter":0}},
    "y":{"field":"m","type":"quantitative","scale":{"domain":[-0.1,1.1],"nice":false,"zero":false},"axis":{"values":[0,0.25,0.5,0.75,1],"labels":false,"title":null}}}},
  {"data":{"name":"br"},"transform":[{"filter":"datum.p=='QS total'"}],"mark":{"type":"line","color":"#111","strokeWidth":1.6},
   "encoding":{"xOffset":{"field":"g","type":"nominal","scale":{"domain":["CHD all","CHD d-TGA","CHD non-TGA","Control"],"paddingInner":0,"paddingOuter":0}},
    "y":{"field":"y","type":"quantitative","scale":{"domain":[-0.1,1.1],"nice":false,"zero":false},"axis":{"values":[0,0.25,0.5,0.75,1],"labels":false,"title":null}},"detail":{"field":"b","type":"nominal"},"order":{"field":"o","type":"quantitative"}}},
  {"data":{"name":"sig"},"transform":[{"filter":"datum.p=='QS total' && datum.k=='mid'"}],"mark":{"type":"text","fontSize":21,"baseline":"alphabetic","color":"#111"},
   "encoding":{"y":{"field":"y","type":"quantitative","scale":{"domain":[-0.1,1.1],"nice":false,"zero":false},"axis":{"values":[0,0.25,0.5,0.75,1],"labels":false,"title":null}},"text":{"field":"s"}}},
  {"data":{"name":"sig"},"transform":[{"filter":"datum.p=='QS total' && datum.k=='edge'"}],"mark":{"type":"text","fontSize":21,"baseline":"alphabetic","color":"#111","dx":9},
   "encoding":{"xOffset":{"field":"g","type":"nominal","scale":{"domain":["CHD all","CHD d-TGA","CHD non-TGA","Control"],"paddingInner":0,"paddingOuter":0}},"y":{"field":"y","type":"quantitative","scale":{"domain":[-0.1,1.1],"nice":false,"zero":false},"axis":{"values":[0,0.25,0.5,0.75,1],"labels":false,"title":null}},"text":{"field":"s"}}}
 ]}
],"spacing":19}
],"spacing":28
}
